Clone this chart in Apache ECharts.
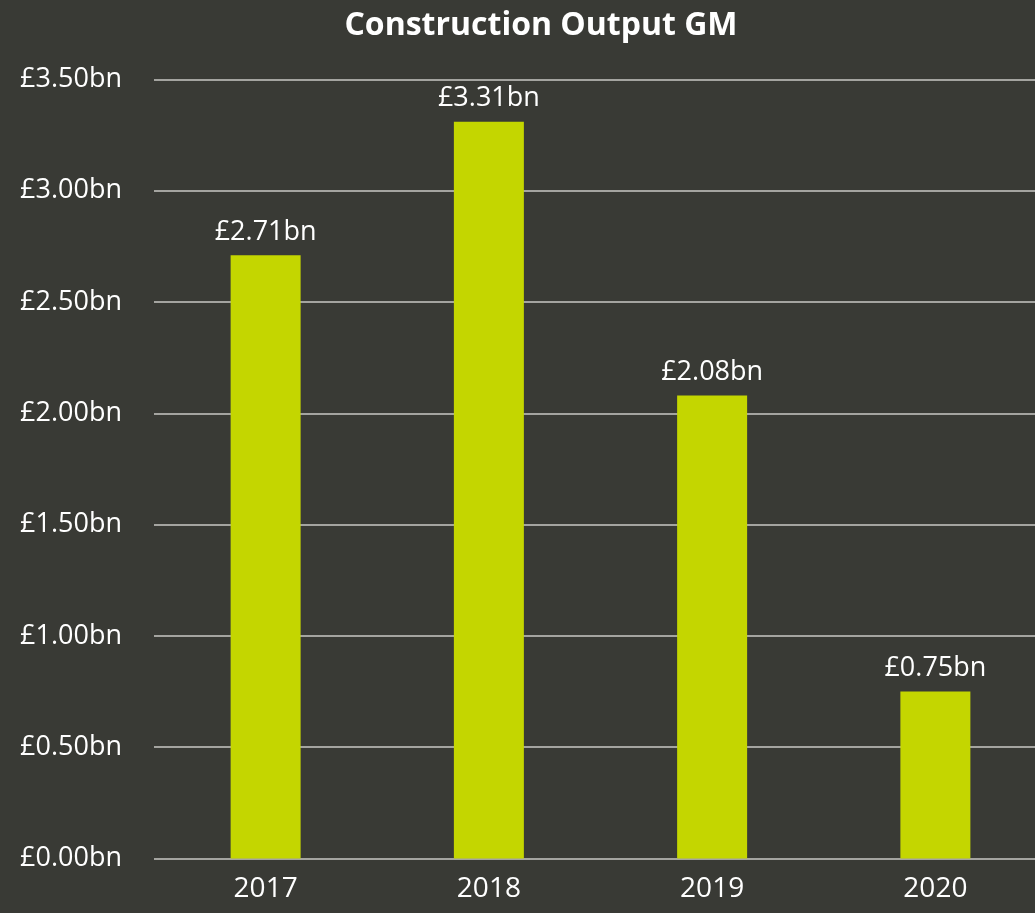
<!DOCTYPE html>
<html><head><meta charset="utf-8">
<script src="https://cdn.jsdelivr.net/npm/echarts@6/dist/echarts.min.js"></script>
<style>html,body{margin:0;padding:0;background:#393a35;overflow:hidden;}#c{width:1050px;height:913px;}</style>
</head><body><div id="c"></div>
<script>
const categories = ['2017','2018','2019','2020'];
const values = [2.71, 3.31, 2.08, 0.75];
const yTicks = [0, 0.5, 1, 1.5, 2, 2.5, 3, 3.5];
const titleText = 'Construction Output GM';
const FONT = '"Open Sans", "Noto Sans", sans-serif';
const chart = echarts.init(document.getElementById('c'));
chart.setOption({
  backgroundColor: '#393a35',
  animation: false,
  title: {text: titleText, left: 536, top: 5, textAlign: 'center',
    textStyle: {color: '#ffffff', fontFamily: FONT, fontWeight: 'bold', fontSize: 32}},
  grid: {left: 154, right: 3, top: 79.5, bottom: 54.5, containLabel: false},
  xAxis: {type: 'category', data: categories,
    axisLine: {show: false}, axisTick: {show: false},
    axisLabel: {color: '#ffffff', fontFamily: FONT, fontSize: 28, margin: 17}},
  yAxis: {type: 'value', min: 0, max: 3.5, interval: 0.5,
    axisLine: {show: false}, axisTick: {show: false},
    splitLine: {lineStyle: {color: '#c8c8c4', width: 1.5}},
    axisLabel: {color: '#ffffff', fontFamily: FONT, fontSize: 27, margin: 32,
      formatter: v => '£' + v.toFixed(2) + 'bn'}},
  series: [{type: 'bar', data: values, barWidth: 70,
    itemStyle: {color: '#c4d600'},
    label: {show: true, position: 'top', distance: 10, color: '#ffffff',
      fontFamily: FONT, fontSize: 27, formatter: p => '£' + p.value.toFixed(2) + 'bn'}}]
});
</script></body></html>
